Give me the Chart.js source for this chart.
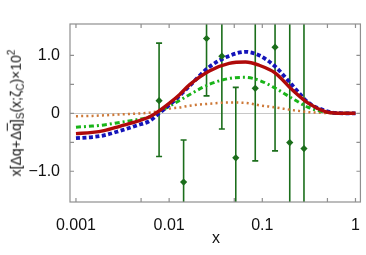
<!DOCTYPE html>
<html>
<head>
<meta charset="utf-8">
<script src="https://cdn.jsdelivr.net/npm/chart.js@4.4.1/dist/chart.umd.min.js"></script>
<style>
  html, body { margin: 0; padding: 0; background: #fff; }
  #wrap { position: relative; width: 366px; height: 255px; }
  #ytitle {
    position: absolute; left: 16px; top: 113px;
    transform: translate(-50%, -50%) rotate(-90deg);
    white-space: nowrap;
    font-family: "Liberation Sans", Arial, sans-serif; font-size: 14px; color: #111;
  }
  #ytitle sub, #ytitle sup { font-size: 10px; }
  #xtitle {
    position: absolute; left: 216px; top: 238px;
    transform: translate(-50%, -50%);
    font-family: "Liberation Sans", Arial, sans-serif; font-size: 16px; color: #111;
  }
</style>
</head>
<body>
<div id="wrap">
  <canvas id="chart" width="366" height="255"></canvas>
  <div id="ytitle">x[Δq+Δ<span style="text-decoration: overline">q</span>]<sub>S</sub>(x;ζ<sub>C</sub>)×10<sup>2</sup></div>
  <div id="xtitle">x</div>
</div>
<script>
"use strict";

//////// DATA ////////
const x_grid = [0.001, 0.0015, 0.002, 0.003, 0.0045, 0.0062, 0.0078, 0.01, 0.0129, 0.0165, 0.027, 0.044, 0.066, 0.092, 0.139, 0.208, 0.314, 0.473, 0.6, 0.8, 1.0];
const red_vals    = [-0.35, -0.33, -0.30, -0.22, -0.14, -0.06, 0.04, 0.17, 0.32, 0.49, 0.73, 0.86, 0.885, 0.83, 0.69, 0.41, 0.17, 0.03, 0.005, 0, 0];
const blue_vals   = [-0.43, -0.41, -0.38, -0.30, -0.21, -0.13, 0.0, 0.14, 0.30, 0.47, 0.80, 0.99, 1.06, 1.00, 0.80, 0.49, 0.18, 0.045, 0.008, 0, 0];
const green_vals  = [-0.24, -0.22, -0.20, -0.155, -0.11, -0.06, 0.03, 0.12, 0.22, 0.32, 0.50, 0.60, 0.62, 0.57, 0.43, 0.26, 0.10, 0.02, 0.004, 0, 0];
const orange_vals = [-0.05, -0.045, -0.035, -0.02, -0.005, 0.01, 0.04, 0.08, 0.10, 0.13, 0.165, 0.185, 0.18, 0.14, 0.10, 0.057, 0.02, 0.005, 0.001, 0, 0];

const pts_x    = [0.0078, 0.0143, 0.0252, 0.0368, 0.0519, 0.084, 0.137, 0.197, 0.28];
const pts_y    = [0.217, -1.186, 1.29, 0.985, -0.768, 0.43, 1.14, -0.505, -0.608];
const pts_low  = [-0.746, -1.91, 0.30, -0.27, -1.98, -0.82, -0.648, -2.8, -2.9];
const pts_high = [1.21, -0.46, 2.28, 2.24, 0.447, 1.68, 2.93, 1.8, 1.7];

const x_ticks = [0.001, 0.005, 0.01, 0.05, 0.1, 0.5, 1];
const x_labels = {0.001: '0.001', 0.01: '0.01', 0.1: '0.1', 1: '1'};
const y_ticks = [-1, -0.5, 0, 0.5, 1];
const y_labels = {'-1': '\u22121.0', '0': '0', '1': '1.0'};

const frame_color = '#8f8f8f';
const pt_color = '#1b6e1b';

function curve(vals) {
  return x_grid.map((x, i) => ({x: x, y: vals[i]}));
}

// frame, inward ticks and zero line
const frame_plugin = {
  id: 'frame',
  beforeDatasetsDraw(chart) {
    const {ctx, chartArea: a, scales} = chart;
    ctx.save();
    ctx.strokeStyle = '#c8c8c8';
    ctx.lineWidth = 1;
    const y0 = Math.round(scales.y.getPixelForValue(0)) + 0.5;
    ctx.beginPath(); ctx.moveTo(a.left, y0); ctx.lineTo(a.right, y0); ctx.stroke();
    ctx.restore();
  },
  afterDraw(chart) {
    const {ctx, chartArea: a, scales} = chart;
    ctx.save();
    ctx.strokeStyle = frame_color;
    ctx.lineWidth = 1.2;
    ctx.strokeRect(a.left, a.top, a.right - a.left, a.bottom - a.top);
    ctx.beginPath();
    x_ticks.forEach(v => {
      const px = scales.x.getPixelForValue(v);
      ctx.moveTo(px, a.bottom); ctx.lineTo(px, a.bottom - 4);
      ctx.moveTo(px, a.top); ctx.lineTo(px, a.top + 4);
    });
    y_ticks.forEach(v => {
      const py = scales.y.getPixelForValue(v);
      ctx.moveTo(a.left, py); ctx.lineTo(a.left + 4, py);
      ctx.moveTo(a.right, py); ctx.lineTo(a.right - 4, py);
    });
    ctx.stroke();
    ctx.restore();
  }
};

// error bars for the data points
const errbar_plugin = {
  id: 'errbars',
  beforeDatasetsDraw(chart) {
    const {ctx, chartArea: a, scales} = chart;
    ctx.save();
    ctx.beginPath();
    ctx.rect(a.left, a.top, a.right - a.left, a.bottom - a.top);
    ctx.clip();
    ctx.strokeStyle = pt_color;
    ctx.lineWidth = 1.6;
    pts_x.forEach((x, i) => {
      const px = scales.x.getPixelForValue(x);
      const lo = scales.y.getPixelForValue(pts_low[i]);
      const hi = scales.y.getPixelForValue(pts_high[i]);
      ctx.beginPath();
      ctx.moveTo(px, lo); ctx.lineTo(px, hi);
      ctx.moveTo(px - 3, lo); ctx.lineTo(px + 3, lo);
      ctx.moveTo(px - 3, hi); ctx.lineTo(px + 3, hi);
      ctx.stroke();
    });
    ctx.restore();
  }
};

const chart_config = {
  type: 'scatter',
  data: {
    datasets: [
      {
        label: 'data', data: pts_x.map((x, i) => ({x: x, y: pts_y[i]})),
        pointStyle: 'rectRot', pointRadius: 3.6, backgroundColor: pt_color, borderColor: pt_color,
        borderWidth: 0, order: 0
      },
      {
        label: 'orange', data: curve(orange_vals), showLine: true, pointRadius: 0,
        borderColor: 'rgb(205,120,55)', borderWidth: 2.5, borderDash: [2, 3.2],
        cubicInterpolationMode: 'monotone', order: 4
      },
      {
        label: 'green', data: curve(green_vals), showLine: true, pointRadius: 0,
        borderColor: 'rgb(25,180,25)', borderWidth: 3, borderDash: [5, 3, 2, 3],
        cubicInterpolationMode: 'monotone', order: 3
      },
      {
        label: 'blue', data: curve(blue_vals), showLine: true, pointRadius: 0,
        borderColor: 'rgb(20,20,185)', borderWidth: 3.8, borderDash: [4, 2.5],
        cubicInterpolationMode: 'monotone', order: 2
      },
      {
        label: 'red', data: curve(red_vals), showLine: true, pointRadius: 0,
        borderColor: 'rgb(175,10,10)', borderWidth: 3.4,
        cubicInterpolationMode: 'monotone', order: 1
      }
    ]
  },
  options: {
    responsive: false,
    animation: false,
    layout: { padding: { top: 24, right: 4, left: 0, bottom: 0 } },
    plugins: { legend: { display: false }, tooltip: { enabled: false } },
    scales: {
      x: {
        type: 'logarithmic',
        min: 0.000863, max: 1.13,
        grid: { display: false },
        border: { display: false },
        afterBuildTicks: (s) => { s.ticks = x_ticks.map(v => ({value: v})); },
        afterFit: (s) => { s.height = 53; },
        ticks: {
          autoSkip: false, maxRotation: 0, padding: 6, color: '#111',
          font: { family: '"Liberation Sans", Arial, sans-serif', size: 16 },
          callback: (v) => x_labels[v] || ''
        }
      },
      y: {
        min: -1.53, max: 1.54,
        grid: { display: false },
        border: { display: false },
        afterBuildTicks: (s) => { s.ticks = y_ticks.map(v => ({value: v})); },
        afterFit: (s) => { s.width = 70; },
        ticks: {
          padding: 2, color: '#111',
          font: { family: '"Liberation Sans", Arial, sans-serif', size: 16 },
          callback: (v) => y_labels[String(v)] || ''
        }
      }
    }
  },
  plugins: [frame_plugin, errbar_plugin]
};

const main_chart = new Chart(document.getElementById('chart').getContext('2d'), chart_config);
</script>
</body>
</html>
